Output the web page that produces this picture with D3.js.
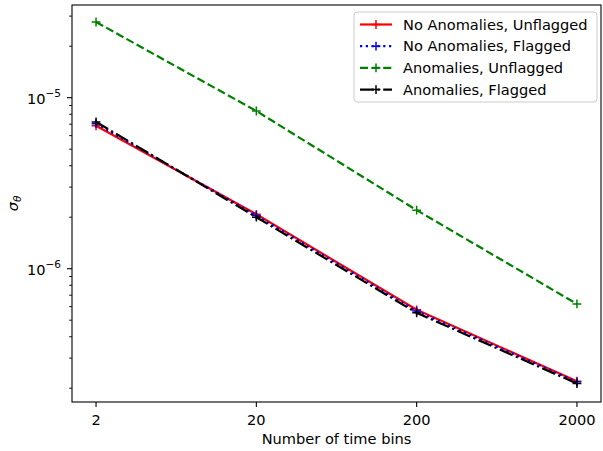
<!DOCTYPE html>
<html>
<head>
<meta charset="utf-8">
<script src="https://cdn.jsdelivr.net/npm/d3@7"></script>
<style>
  body { margin: 0; background: #fff; }
  text { font-family: "DejaVu Sans", sans-serif; }
</style>
</head>
<body>
<svg id="chart"></svg>
<script>
// Size of the page and the plot frame
const width = 603;
const height = 451;
const margin = { top: 5, right: 2, bottom: 49, left: 72 };
const fs = 14.6; // 10pt text

// Data
const bins = [2, 20, 200, 2000];
const noAnomUnflagged = [6.85e-6, 2.08e-6, 5.75e-7, 2.20e-7];
const noAnomFlagged = [7.05e-6, 2.05e-6, 5.65e-7, 2.18e-7];
const anomUnflagged = [2.77e-5, 8.36e-6, 2.20e-6, 6.22e-7];
const anomFlagged = [7.22e-6, 2.00e-6, 5.52e-7, 2.13e-7];
const seriesNames = ["No Anomalies, Unflagged", "No Anomalies, Flagged", "Anomalies, Unflagged", "Anomalies, Flagged"];
const xTicks = [2, 20, 200, 2000];
const yMajor = [1e-6, 1e-5];

const series = [
    { name: seriesNames[0], values: noAnomUnflagged, color: "#ff0000", dash: null },
    { name: seriesNames[1], values: noAnomFlagged, color: "#0000ff", dash: "2.2,3.6" },
    { name: seriesNames[2], values: anomUnflagged, color: "#008000", dash: "8.1,3.5" },
    { name: seriesNames[3], values: anomFlagged, color: "#000000", dash: "14,3.5,2.2,3.5" }
];

const svg = d3.select("#chart")
    .attr("width", width)
    .attr("height", height);

const x0 = margin.left, x1 = width - margin.right;
const y0 = margin.top, y1 = height - margin.bottom;

// log scales, 5% padding in log space like matplotlib
const pad = 0.05 * Math.log10(2000 / 2);
const xScale = d3.scaleLog()
    .domain([2 / Math.pow(10, pad), 2000 * Math.pow(10, pad)])
    .range([x0, x1]);

const yScale = d3.scaleLog()
    .domain([Math.pow(10, -6.7795), Math.pow(10, -4.458)])
    .range([y1, y0]);

// x ticks
const xg = svg.append("g");
xTicks.forEach(t => {
    const x = xScale(t);
    xg.append("line").attr("x1", x).attr("x2", x).attr("y1", y1).attr("y2", y1 + 5)
        .attr("stroke", "#000").attr("stroke-width", 1.1);
    xg.append("text").attr("x", x).attr("y", y1 + 22.5)
        .attr("text-anchor", "middle").attr("font-size", fs).text(t);
});

// y minor ticks
const yg = svg.append("g");
const [ymin, ymax] = yScale.domain();
for (let e = -7; e <= -5; e++) {
    for (let m = 2; m <= 9; m++) {
        const v = m * Math.pow(10, e);
        if (v < ymin || v > ymax) continue;
        const y = yScale(v);
        yg.append("line").attr("x1", x0 - 2.9).attr("x2", x0).attr("y1", y).attr("y2", y)
            .attr("stroke", "#000").attr("stroke-width", 0.9);
    }
}
// y major ticks with 10^n labels
yMajor.forEach(v => {
    const y = yScale(v);
    yg.append("line").attr("x1", x0 - 5).attr("x2", x0).attr("y1", y).attr("y2", y)
        .attr("stroke", "#000").attr("stroke-width", 1.1);
    const exp = Math.round(Math.log10(v));
    const t = yg.append("text").attr("x", x0 - 11).attr("y", y + 6)
        .attr("text-anchor", "end").attr("font-size", fs);
    t.append("tspan").text("10");
    t.append("tspan").attr("dy", -7).attr("font-size", 10.5).text("\u2212" + Math.abs(exp));
});

// lines and markers
const line = d3.line()
    .x((d, i) => xScale(bins[i]))
    .y(d => yScale(d));

series.forEach(s => {
    svg.append("path")
        .datum(s.values)
        .attr("fill", "none")
        .attr("stroke", s.color)
        .attr("stroke-width", 2.2)
        .attr("stroke-dasharray", s.dash)
        .attr("d", line);
    svg.append("g").selectAll("path")
        .data(s.values)
        .join("path")
        .attr("d", (d, i) => {
            const x = xScale(bins[i]), y = yScale(d);
            return `M${x - 4.4},${y}H${x + 4.4}M${x},${y - 4.4}V${y + 4.4}`;
        })
        .attr("stroke", s.color)
        .attr("stroke-width", 1.5);
});

// frame
svg.append("rect")
    .attr("x", x0).attr("y", y0)
    .attr("width", x1 - x0).attr("height", y1 - y0)
    .attr("fill", "none").attr("stroke", "#000").attr("stroke-width", 1.1);

// axis labels
svg.append("text")
    .attr("x", (x0 + x1) / 2).attr("y", 444)
    .attr("text-anchor", "middle").attr("font-size", fs)
    .text("Number of time bins");

const yl = svg.append("text")
    .attr("transform", `translate(18,${(y0 + y1) / 2}) rotate(-90)`)
    .attr("text-anchor", "middle").attr("font-size", fs);
yl.append("tspan").attr("font-style", "italic").text("\u03c3");
yl.append("tspan").attr("font-style", "italic").attr("font-size", 10.5).attr("dy", 3).text("\u03b8");

// legend
const lg = svg.append("g").attr("transform", "translate(354,12)");
lg.append("rect")
    .attr("width", 243).attr("height", 90).attr("rx", 3)
    .attr("fill", "#fff").attr("fill-opacity", 0.8)
    .attr("stroke", "#cccccc").attr("stroke-width", 1);
series.forEach((s, i) => {
    const y = 12.5 + i * 21.7;
    lg.append("line").attr("x1", 6).attr("x2", 38).attr("y1", y).attr("y2", y)
        .attr("stroke", s.color).attr("stroke-width", 2.2)
        .attr("stroke-dasharray", s.dash);
    lg.append("path")
        .attr("d", `M17.6,${y}H26.4M22,${y - 4.4}V${y + 4.4}`)
        .attr("stroke", s.color).attr("stroke-width", 1.5);
    lg.append("text").attr("x", 49).attr("y", y + 5)
        .attr("font-size", fs).text(s.name);
});
</script>
</body>
</html>
